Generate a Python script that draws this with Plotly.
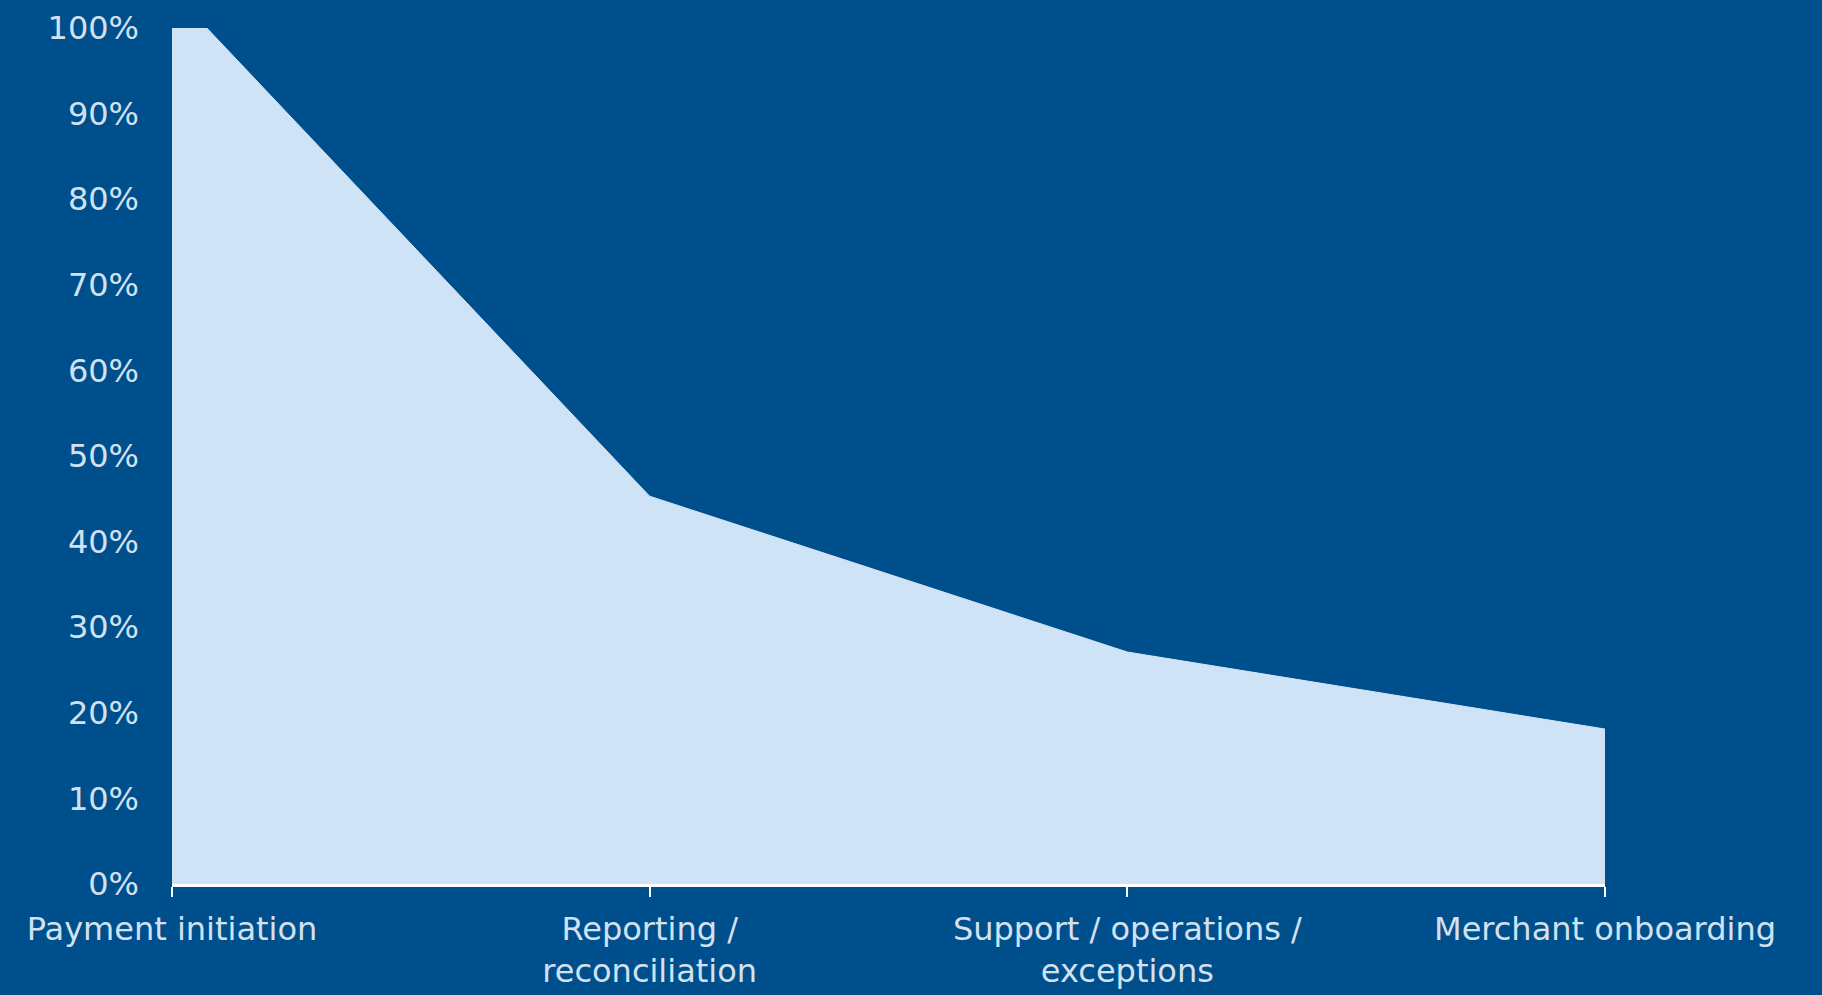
import plotly.graph_objects as go

categories = ["Payment initiation", "Reporting /<br>reconciliation",
              "Support / operations /<br>exceptions", "Merchant onboarding"]
values = [1.043, 0.453, 0.271, 0.181]
y_ticks = [0, 0.1, 0.2, 0.3, 0.4, 0.5, 0.6, 0.7, 0.8, 0.9, 1.0]

BG = "#004f8d"
FILL = "#cfe3f6"
TXT = "#d3e1ef"
FONT = "DejaVu Sans"
FS = 32

fig = go.Figure()
fig.add_trace(go.Scatter(
    x=categories, y=values, mode="lines", fill="tozeroy",
    fillcolor=FILL, line=dict(color=FILL, width=1), hoverinfo="skip",
    showlegend=False,
))

fig.update_layout(
    width=1822, height=995,
    paper_bgcolor=BG, plot_bgcolor=BG,
    margin=dict(l=172, r=217, t=28, b=111, autoexpand=False),
    font=dict(family=FONT, size=FS, color=TXT),
    showlegend=False,
)
fig.update_xaxes(
    type="category", range=[0, 3], showgrid=False, zeroline=False,
    showline=True, linecolor="white", linewidth=3,
    ticks="outside", ticklen=10, tickwidth=2, tickcolor="white",
    ticklabelstandoff=5,
    tickfont=dict(family=FONT, size=FS, color=TXT), automargin=False,
)
fig.update_yaxes(
    range=[0, 1], tickvals=y_ticks, tickformat=".0%", showgrid=False,
    zeroline=False, showline=False, ticks="", ticklabelstandoff=32,
    tickfont=dict(family=FONT, size=FS, color=TXT), automargin=False,
)

fig.write_html(
    "out.html",
    config={"displayModeBar": False},
    post_script="document.body.style.margin='0';"
                "document.body.style.background='" + BG + "';",
)
